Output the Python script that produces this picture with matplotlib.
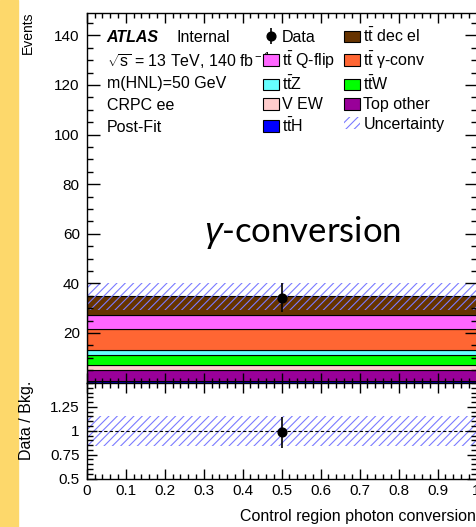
import numpy as np
import matplotlib
matplotlib.use('Agg')
import matplotlib.pyplot as plt
from matplotlib.patches import Patch, Rectangle
from matplotlib.ticker import MultipleLocator, FuncFormatter

plt.rcParams['font.family'] = ['Liberation Sans', 'DejaVu Sans']
plt.rcParams['mathtext.fontset'] = 'custom'
plt.rcParams['mathtext.rm'] = 'Liberation Sans'
plt.rcParams['mathtext.it'] = 'Liberation Sans:italic'
plt.rcParams['mathtext.bf'] = 'Liberation Sans:bold'
plt.rcParams['hatch.linewidth'] = 0.8

# ------------------------------
# post-fit yields in CRPC ee (single bin), stacked bottom -> top
# ------------------------------
samples = ['ttH', 'Top other', 'V EW', 'ttW', 'ttZ', 'tt gamma-conv', 'tt Q-flip', 'tt dec el']
labels = [r't$\bar{\rm t}$H', 'Top other', 'V EW', r't$\bar{\rm t}$W', r't$\bar{\rm t}$Z',
          r't$\bar{\rm t}$ γ-conv', r't$\bar{\rm t}$ Q-flip', r't$\bar{\rm t}$ dec el']
yields = [0.8, 4.4, 1.7, 4.4, 1.8, 8.3, 5.8, 7.6]
colors = ['#0000ff', '#990099', '#ffcccc', '#00ff00', '#66ffff', '#ff6633', '#ff66ff', '#663300']

data_yield = 34.2
data_err = 5.8
bkg_unc = 5.5

unc_color = '#7b7bff'

fig = plt.figure(figsize=(4.77, 5.27), dpi=100)
fig.add_artist(Rectangle((0, 0), 18 / 477, 1, transform=fig.transFigure,
                         color='#fdd86b', zorder=-1))

ax = fig.add_axes([0.182, 0.2741, 0.817, 0.7012])
rax = fig.add_axes([0.182, 0.0920, 0.817, 0.1812])

# stacked backgrounds
handles = {}
bottom = 0.0
for name, val, col in zip(samples, yields, colors):
    ax.bar(0.5, val, width=1.0, bottom=bottom, color=col, edgecolor='black', linewidth=0.8)
    handles[name] = Patch(facecolor=col, edgecolor='black', linewidth=0.8)
    bottom += val
total = bottom

# uncertainty band
ax.bar(0.5, 2 * bkg_unc, width=1.0, bottom=total - bkg_unc, facecolor='none',
       edgecolor=unc_color, hatch='////', linewidth=0)
unc_handle = Patch(facecolor='none', edgecolor=unc_color, hatch='////', linewidth=0)

data_handle = ax.errorbar(0.5, data_yield, yerr=data_err, fmt='o', color='black',
                          ms=6.3, elinewidth=1.2, capsize=0, zorder=5)

ax.set_xlim(0, 1)
ax.set_ylim(0, 149)
ax.set_yticks(np.arange(20, 150, 20))
ax.yaxis.set_minor_locator(MultipleLocator(5))

# legend, two columns
leg_handles = [data_handle, handles['tt Q-flip'], handles['ttZ'], handles['V EW'], handles['ttH'],
               handles['tt dec el'], handles['tt gamma-conv'], handles['ttW'], handles['Top other'],
               unc_handle]
leg_labels = ['Data', labels[6], labels[4], labels[2], labels[0],
              labels[7], labels[5], labels[3], labels[1], 'Uncertainty']
ax.legend(leg_handles, leg_labels, ncol=2, loc='upper left', bbox_to_anchor=(0.451, 0.962),
          frameon=False, fontsize=11.5, borderpad=0, borderaxespad=0,
          handlelength=1.0, handleheight=0.75, handletextpad=0.2,
          labelspacing=0.27, columnspacing=0.6)

# labels
ax.text(0.051, 0.935, 'ATLAS', transform=ax.transAxes, fontsize=11.5,
        fontweight='bold', fontstyle='italic', va='center')
ax.text(0.231, 0.935, 'Internal', transform=ax.transAxes, fontsize=11.5, va='center')
info = [r'$\sqrt{\rm s}$ = 13 TeV, 140 fb$^{\rm -1}$', 'm(HNL)=50 GeV', 'CRPC ee', 'Post-Fit']
for i, line in enumerate(info):
    ax.text(0.051, 0.870 - 0.0595 * i, line, transform=ax.transAxes, fontsize=11.5, va='center')

ax.text(0.553, 0.405, r'$\gamma$-conversion', transform=ax.transAxes, fontsize=25,
        family='Lato', ha='center', va='center')

# ratio panel
rel = bkg_unc / total
rax.bar(0.5, 2 * rel, width=1.0, bottom=1 - rel, facecolor='none',
        edgecolor=unc_color, hatch='////', linewidth=0)
rax.axhline(1.0, color='black', ls=(0, (3, 2)), lw=0.8)
rax.errorbar(0.5, data_yield / total, yerr=data_err / total, fmt='o', color='black',
             ms=6.3, elinewidth=1.2, capsize=0, zorder=5)
rax.set_xlim(0, 1)
rax.set_ylim(0.5, 1.5)
rax.set_yticks([0.5, 0.75, 1.0, 1.25])
rax.yaxis.set_minor_locator(MultipleLocator(0.05))

fmt = FuncFormatter(lambda v, p: '%g' % v)
for a in (ax, rax):
    a.xaxis.set_major_locator(MultipleLocator(0.1))
    a.xaxis.set_minor_locator(MultipleLocator(0.02))
    a.xaxis.set_major_formatter(fmt)
    a.yaxis.set_major_formatter(fmt)
    a.tick_params(which='both', direction='in', top=True, right=True, labelsize=11, width=1)
    a.tick_params(axis='x', which='major', length=7, pad=4)
    a.tick_params(axis='x', which='minor', length=3.5)
    a.tick_params(axis='y', which='minor', length=4)
    for s in a.spines.values():
        s.set_linewidth(1)
ax.tick_params(axis='y', which='major', length=9, pad=5)
rax.tick_params(axis='y', which='major', length=7, pad=5)
ax.tick_params(axis='x', labelbottom=False)

fig.text(27.5 / 477, 1 - 12 / 527, 'Events', rotation=90, ha='center', va='top', fontsize=10)
fig.text(26.7 / 477, 1 - 420 / 527, 'Data / Bkg.', rotation=90, ha='center', va='center', fontsize=11.5)
fig.text(240 / 477, 1 - 516.7 / 527, 'Control region photon conversion', ha='left', va='center',
         fontsize=11.5)

fig.savefig('out.png', dpi=100)
